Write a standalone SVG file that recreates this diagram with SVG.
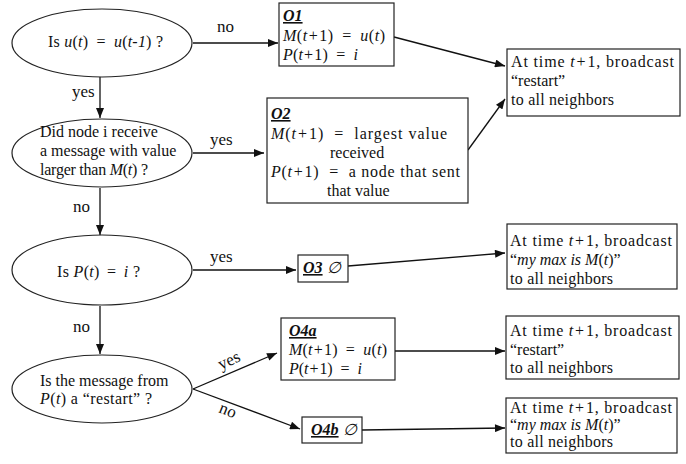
<svg xmlns="http://www.w3.org/2000/svg" width="686" height="464" viewBox="0 0 686 464">
<style>
text{font-family:"Liberation Serif","Times New Roman",serif;font-size:16px;fill:#111}
.l{font-size:17px}
.i{font-style:italic}
.o{font-style:italic;font-weight:bold;text-decoration:underline}
.sh{fill:#fff;stroke:#222;stroke-width:1.2}
.c line{stroke:#111;stroke-width:1.3;marker-end:url(#ah)}
</style>
<defs>
<marker id="ah" viewBox="0 0 10 8" refX="10" refY="4" markerWidth="11" markerHeight="8" markerUnits="userSpaceOnUse" orient="auto">
<path d="M0,0 L10,4 L0,8 Z" fill="#111"/>
</marker>
</defs>
<g class="c" id="connectors">
<line x1="193" y1="43" x2="278" y2="43"/>
<line x1="100" y1="77" x2="100" y2="118"/>
<line x1="193" y1="153" x2="264" y2="153"/>
<line x1="100" y1="188" x2="100" y2="235"/>
<line x1="193" y1="270" x2="296" y2="270"/>
<line x1="100" y1="306" x2="100" y2="354"/>
<line x1="193" y1="389" x2="277" y2="353"/>
<line x1="193" y1="389" x2="300" y2="429"/>
<line x1="394" y1="37" x2="505" y2="66"/>
<line x1="468" y1="150" x2="505" y2="99"/>
<line x1="348" y1="266" x2="505" y2="253"/>
<line x1="395" y1="351" x2="505" y2="351"/>
<line x1="362" y1="430" x2="505" y2="428"/>
<text class="l" x="217" y="32">no</text>
<text class="l" x="72" y="97">yes</text>
<text class="l" x="210" y="145">yes</text>
<text class="l" x="73" y="212">no</text>
<text class="l" x="210" y="262">yes</text>
<text class="l" x="73" y="332">no</text>
<text class="l" x="0" y="0" transform="translate(221,370) rotate(-25)">yes</text>
<text class="l" x="0" y="0" transform="translate(218,412) rotate(22)">no</text>
</g>
<g id="q1">
<ellipse class="sh" cx="102" cy="43" rx="90" ry="34"/>
<text x="48" y="47" textLength="115">Is <tspan class="i">u</tspan>(<tspan class="i">t</tspan>)<tspan dx="4"> =</tspan><tspan dx="4"> </tspan><tspan class="i">u</tspan>(<tspan class="i">t-1</tspan>) ?</text>
</g>
<g id="q2">
<ellipse class="sh" cx="102" cy="153" rx="90" ry="34"/>
<text x="40" y="137">Did node i receive</text>
<text x="40" y="156">a message with value</text>
<text x="40" y="175" textLength="108">larger than <tspan class="i">M</tspan>(<tspan class="i">t</tspan>) ?</text>
</g>
<g id="q3">
<ellipse class="sh" cx="102" cy="270" rx="90" ry="35"/>
<text x="57" y="277" textLength="83">Is <tspan class="i">P</tspan>(<tspan class="i">t</tspan>)<tspan dx="3"> =</tspan><tspan dx="3"> </tspan><tspan class="i">i</tspan> ?</text>
</g>
<g id="q4">
<ellipse class="sh" cx="102" cy="389" rx="90" ry="34"/>
<text x="40" y="386">Is the message from</text>
<text x="40" y="404" textLength="112"><tspan class="i">P</tspan>(<tspan class="i">t</tspan>) a “restart” ?</text>
</g>
<g id="o1">
<rect class="sh" x="279" y="3" width="115" height="63"/>
<text x="283" y="21" class="o">O1</text>
<text x="283" y="41" textLength="102"><tspan class="i">M</tspan>(<tspan class="i">t</tspan><tspan dx="1">+</tspan><tspan dx="1">1)</tspan><tspan dx="4"> =</tspan><tspan dx="4"> </tspan><tspan class="i">u</tspan>(<tspan class="i">t</tspan>)</text>
<text x="283" y="60" textLength="75"><tspan class="i">P</tspan>(<tspan class="i">t</tspan><tspan dx="1">+</tspan><tspan dx="1">1)</tspan><tspan dx="4"> =</tspan><tspan dx="4"> </tspan><tspan class="i">i</tspan></text>
</g>
<g id="o2">
<rect class="sh" x="267" y="98" width="201" height="105"/>
<text x="271" y="119" class="o">O2</text>
<text x="271" y="139" textLength="176"><tspan class="i">M</tspan>(<tspan class="i">t</tspan><tspan dx="1">+</tspan><tspan dx="1">1)</tspan><tspan dx="5"> =</tspan><tspan dx="5"> largest value</tspan></text>
<text x="330" y="158">received</text>
<text x="271" y="177" textLength="189"><tspan class="i">P</tspan>(<tspan class="i">t</tspan><tspan dx="1">+</tspan><tspan dx="1">1)</tspan><tspan dx="5"> =</tspan><tspan dx="5"> a node that sent</tspan></text>
<text x="327" y="196">that value</text>
</g>
<g id="o3">
<rect class="sh" x="298" y="255" width="50" height="27"/>
<text x="303" y="273"><tspan class="o">O3</tspan> <tspan class="i">∅</tspan></text>
</g>
<g id="o4a">
<rect class="sh" x="281" y="318" width="114" height="62"/>
<text x="289" y="336" class="o">O4a</text>
<text x="289" y="355" textLength="98"><tspan class="i">M</tspan>(<tspan class="i">t</tspan><tspan dx="1">+</tspan><tspan dx="1">1)</tspan><tspan dx="4"> =</tspan><tspan dx="4"> </tspan><tspan class="i">u</tspan>(<tspan class="i">t</tspan>)</text>
<text x="289" y="374" textLength="73"><tspan class="i">P</tspan>(<tspan class="i">t</tspan><tspan dx="1">+</tspan><tspan dx="1">1)</tspan><tspan dx="4"> =</tspan><tspan dx="4"> </tspan><tspan class="i">i</tspan></text>
</g>
<g id="o4b">
<rect class="sh" x="302" y="417" width="60" height="26"/>
<text x="311" y="435"><tspan class="o">O4b</tspan> <tspan class="i">∅</tspan></text>
</g>
<g id="b1">
<rect class="sh" x="507" y="49" width="173" height="67"/>
<text x="511" y="67" textLength="163">At time <tspan class="i">t</tspan><tspan dx="1">+</tspan><tspan dx="1">1,</tspan> broadcast</text>
<text x="511" y="86">“restart”</text>
<text x="511" y="105" textLength="103">to all neighbors</text>
</g>
<g id="b2">
<rect class="sh" x="507" y="224" width="170" height="65"/>
<text x="510" y="246" textLength="162">At time <tspan class="i">t</tspan><tspan dx="1">+</tspan><tspan dx="1">1,</tspan> broadcast</text>
<text x="510" y="265">“<tspan class="i">my max is M</tspan>(<tspan class="i">t</tspan>)”</text>
<text x="510" y="284" textLength="103">to all neighbors</text>
</g>
<g id="b3">
<rect class="sh" x="506" y="316" width="173" height="63"/>
<text x="510" y="336" textLength="162">At time <tspan class="i">t</tspan><tspan dx="1">+</tspan><tspan dx="1">1,</tspan> broadcast</text>
<text x="510" y="355">“restart”</text>
<text x="510" y="373" textLength="103">to all neighbors</text>
</g>
<g id="b4">
<rect class="sh" x="506" y="398" width="171" height="55"/>
<text x="510" y="413" textLength="162">At time <tspan class="i">t</tspan><tspan dx="1">+</tspan><tspan dx="1">1,</tspan> broadcast</text>
<text x="510" y="430">“<tspan class="i">my max is M</tspan>(<tspan class="i">t</tspan>)”</text>
<text x="510" y="447" textLength="103">to all neighbors</text>
</g>
</svg>
